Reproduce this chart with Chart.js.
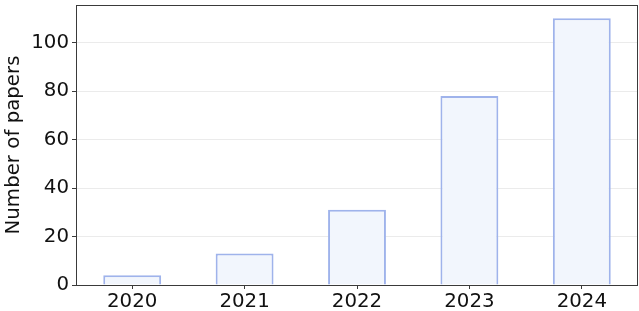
<!DOCTYPE html>
<html>
<head>
<meta charset="utf-8">
<script src="https://cdn.jsdelivr.net/npm/chart.js@4"></script>
<style>
  html, body { margin: 0; padding: 0; background: #fff; }
  #wrap { width: 639px; height: 311px; }
</style>
</head>
<body>
<div id="wrap"><canvas id="papersChart"></canvas></div>
<script>
const years  = ['2020', '2021', '2022', '2023', '2024'];
const papers = [4, 13, 31, 78, 110];
const yTicks = [0, 20, 40, 60, 80, 100];

const FONT = { family: '"DejaVu Sans", sans-serif', size: 19.8 };

// matplotlib-style frame round the plot area
const frame = {
  id: 'frame',
  afterDatasetsDraw(chart) {
    const { ctx, chartArea: a } = chart;
    ctx.save();
    ctx.strokeStyle = '#3a3a3a';
    ctx.lineWidth = 1;
    ctx.strokeRect(a.left + 0.5, a.top + 0.5, a.right - a.left - 1, a.bottom - a.top);
    ctx.restore();
  }
};

new Chart(document.getElementById('papersChart'), {
  type: 'bar',
  data: {
    labels: years,
    datasets: [{
      data: papers,
      backgroundColor: '#f2f6fd',
      borderColor: '#9fb3eb',
      borderWidth: 2,
      barPercentage: 0.515,
      categoryPercentage: 1,
    }]
  },
  options: {
    responsive: true, maintainAspectRatio: false, animation: false,
    layout: { padding: { top: 5, right: 1, left: 0, bottom: 0 } },
    plugins: { legend: { display: false }, tooltip: { enabled: false } },
    scales: {
      x: {
        grid: { display: true, drawOnChartArea: false, offset: false, tickLength: 4, tickColor: '#3a3a3a' },
        border: { display: false },
        ticks: { color: '#111', font: FONT, padding: 1, maxRotation: 0 },
        afterFit: s => { s.height = 26; },
      },
      y: {
        min: 0, max: 115.5,
        grid: { color: '#ebebeb', tickLength: 4, tickColor: '#3a3a3a' },
        border: { display: false },
        ticks: { color: '#111', font: FONT, padding: 3, stepSize: 20 },
        afterBuildTicks: s => { s.ticks = yTicks.map(v => ({ value: v })); },
        title: { display: true, text: 'Number of papers', color: '#111', font: FONT, padding: { top: 2, bottom: 0 } },
        afterFit: s => { s.width = 76; s.paddingTop = 0; s.paddingBottom = 0; },
      }
    }
  },
  plugins: [frame]
});
</script>
</body>
</html>
